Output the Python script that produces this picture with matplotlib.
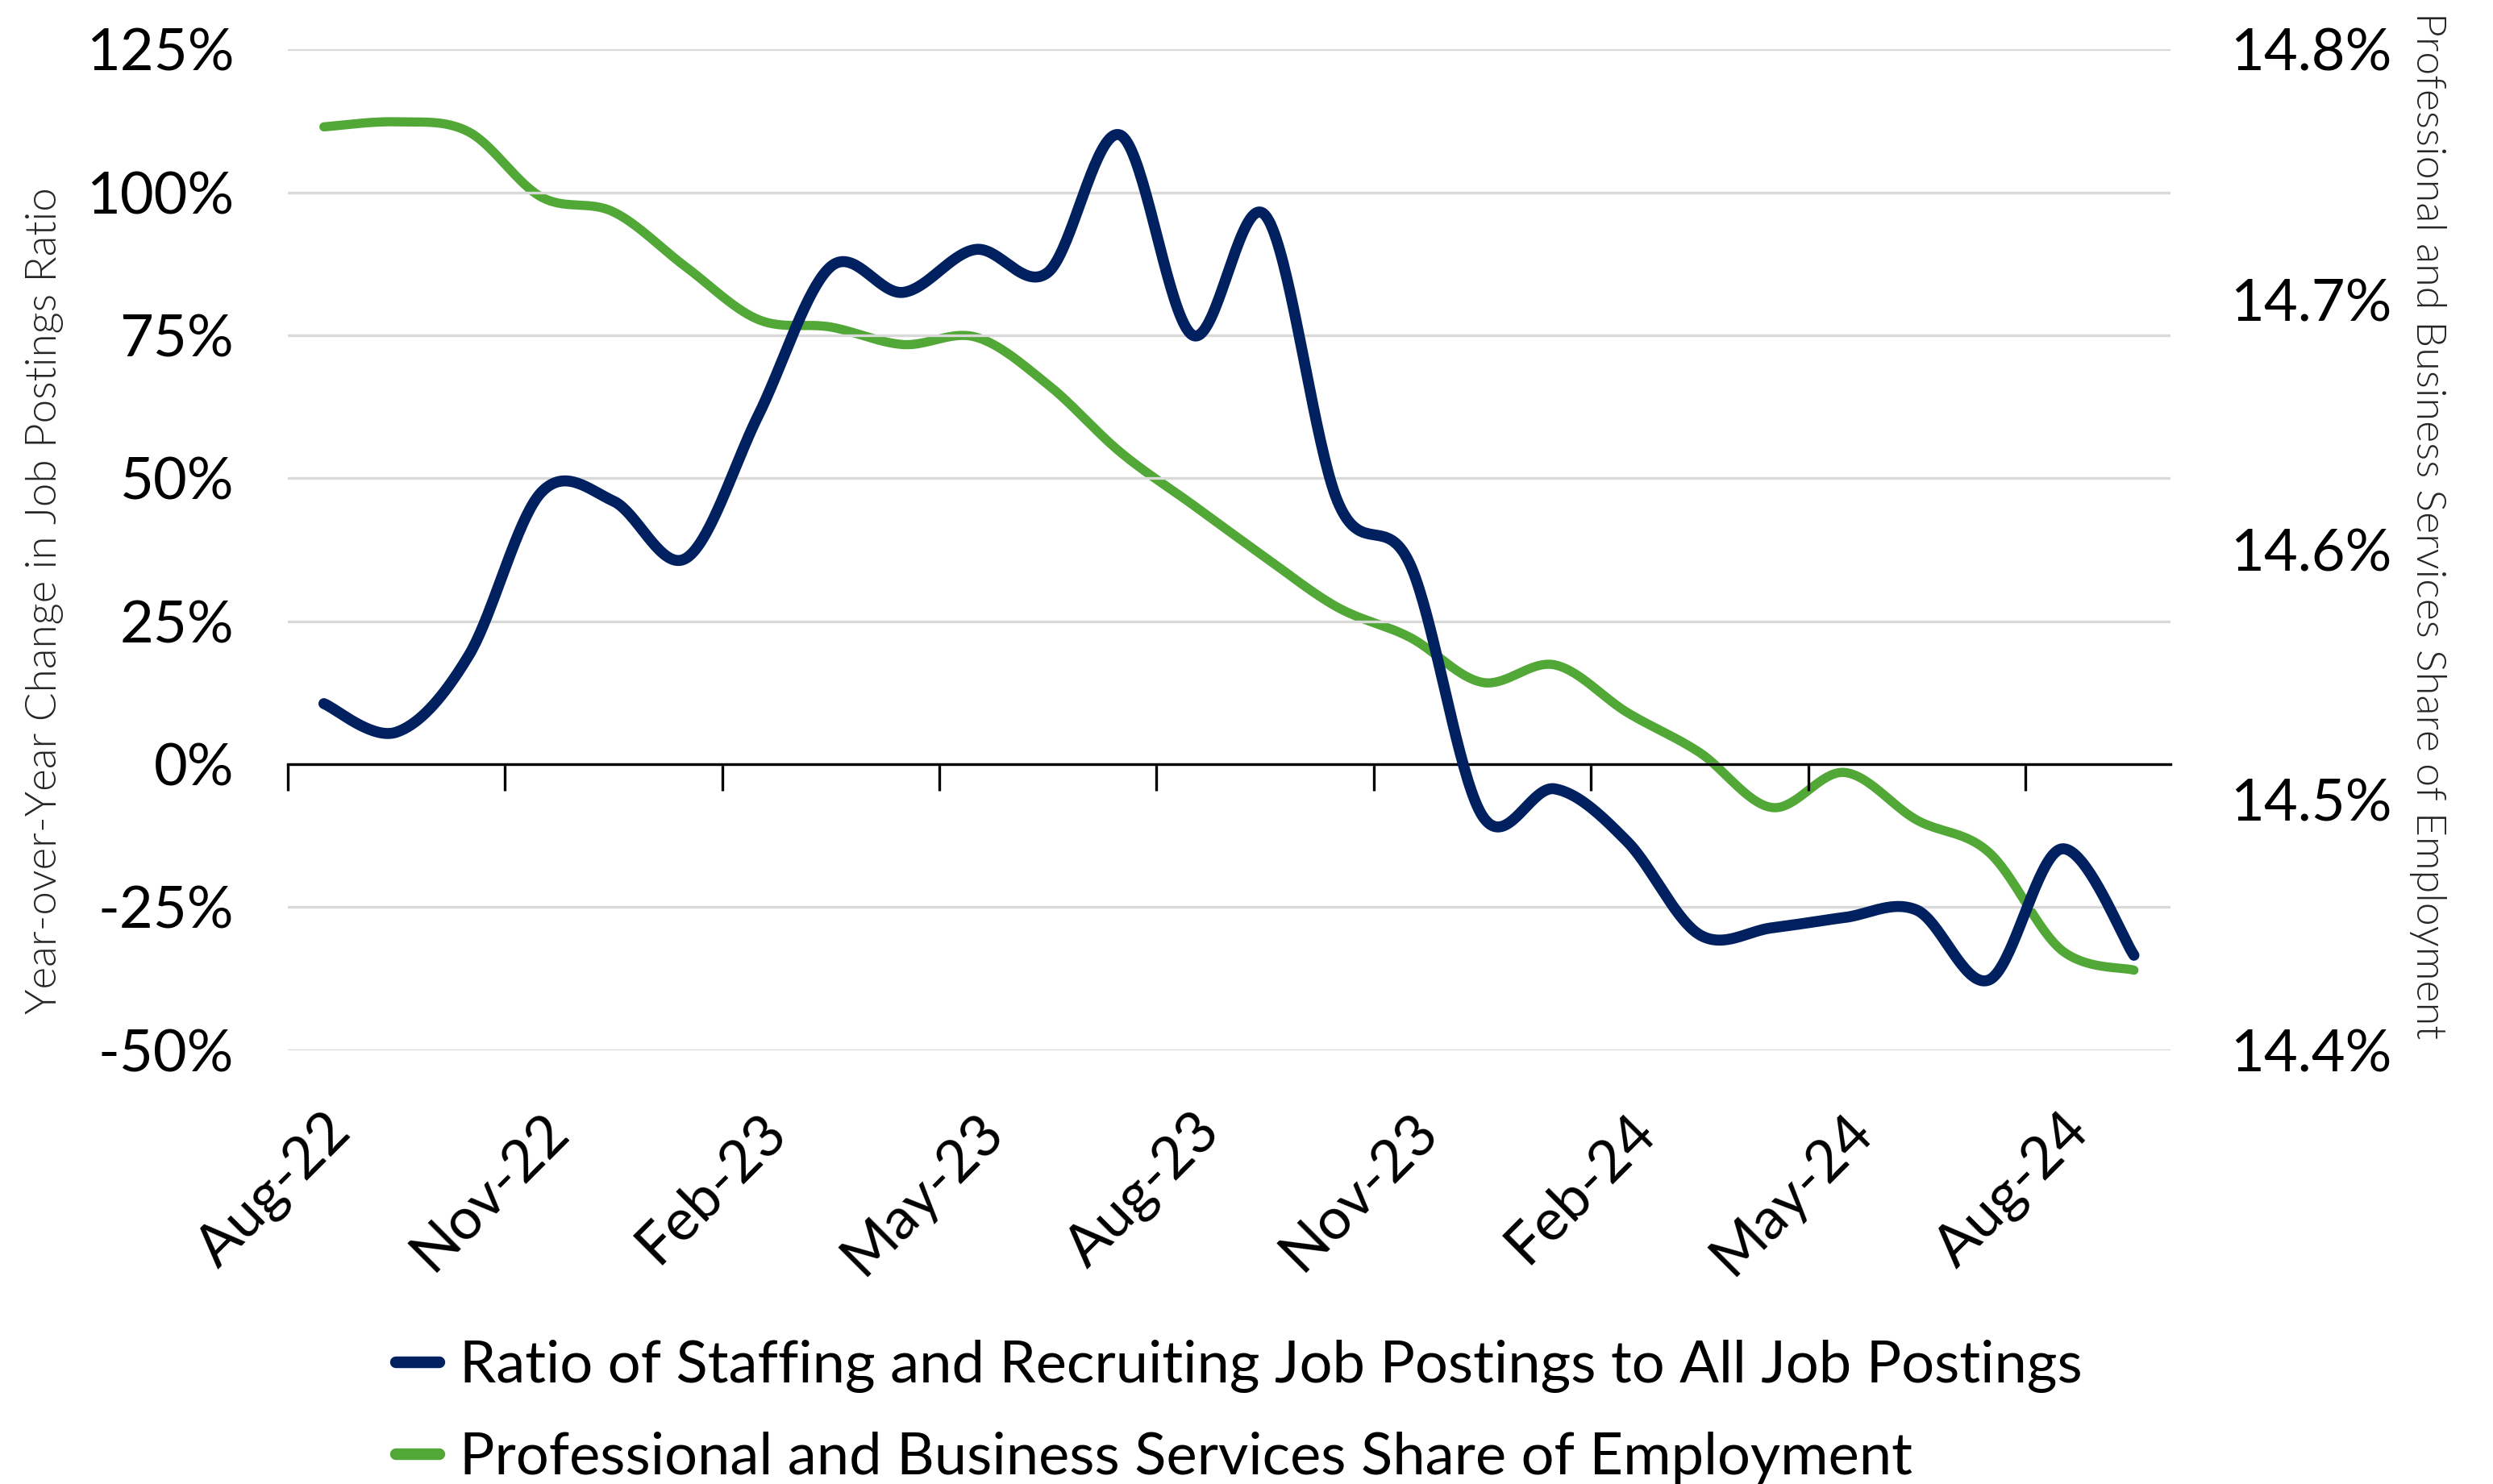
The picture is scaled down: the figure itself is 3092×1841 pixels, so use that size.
import numpy as np
import matplotlib.pyplot as plt
from matplotlib.ticker import FuncFormatter, MultipleLocator

months = ['Aug-22', 'Sep-22', 'Oct-22', 'Nov-22', 'Dec-22', 'Jan-23', 'Feb-23', 'Mar-23',
          'Apr-23', 'May-23', 'Jun-23', 'Jul-23', 'Aug-23', 'Sep-23', 'Oct-23', 'Nov-23',
          'Dec-23', 'Jan-24', 'Feb-24', 'Mar-24', 'Apr-24', 'May-24', 'Jun-24', 'Jul-24',
          'Aug-24', 'Sep-24']

# YoY change in staffing/recruiting share of job postings (%)
staffing_ratio = [10.6, 5.6, 19.0, 47.5, 46.0, 36.0, 61.0, 87.0, 82.5, 90.0, 86.0, 110.0,
                  75.0, 96.0, 46.0, 35.0, -9.0, -4.3, -13.5, -29.8, -28.6, -26.8, -25.5,
                  -37.7, -14.8, -33.4]

# professional & business services share of employment (%)
pbs_share = [14.769, 14.771, 14.767, 14.741, 14.735, 14.713, 14.692, 14.689, 14.682, 14.685,
             14.666, 14.639, 14.618, 14.597, 14.577, 14.565, 14.547, 14.554, 14.535, 14.519,
             14.497, 14.511, 14.492, 14.479, 14.440, 14.432]

BLUE = '#00205F'
GREEN = '#52A836'
FONT = 'Lato'
FS = 26


def smooth(y, n=40):
    # excel style smoothed line (cardinal spline through the points)
    y = np.asarray(y, dtype=float)
    x = np.arange(len(y), dtype=float)
    xs, ys = [], []
    t = np.linspace(0, 1, n)
    for i in range(len(y) - 1):
        y0 = y[i - 1] if i > 0 else y[i]
        y3 = y[i + 2] if i + 2 < len(y) else y[i + 1]
        x0 = x[i - 1] if i > 0 else x[i]
        x3 = x[i + 2] if i + 2 < len(x) else x[i + 1]
        p1, p2 = np.array([x[i], y[i]]), np.array([x[i + 1], y[i + 1]])
        c1 = p1 + (p2 - np.array([x0, y0])) / 6
        c2 = p2 - (np.array([x3, y3]) - p1) / 6
        pts = ((1 - t)[:, None] ** 3 * p1 + 3 * ((1 - t) ** 2 * t)[:, None] * c1
               + 3 * ((1 - t) * t ** 2)[:, None] * c2 + (t ** 3)[:, None] * p2)
        xs.append(pts[:, 0])
        ys.append(pts[:, 1])
    return np.concatenate(xs), np.concatenate(ys)


fig = plt.figure(figsize=(15.46, 9.205), dpi=200)
ax = fig.add_axes([0.1154, 0.2923, 0.8705 - 0.1154, 0.9668 - 0.2923])
ax2 = ax.twinx()

xb, yb = smooth(staffing_ratio)
xg, yg = smooth(pbs_share)
ax.plot(xb, yb, color=BLUE, lw=4.9, solid_capstyle='round', zorder=3)
ax2.plot(xg, yg, color=GREEN, lw=4.1, solid_capstyle='round', zorder=2)
ax.set_zorder(ax2.get_zorder() + 1)
ax.patch.set_visible(False)

ax.set_xlim(-0.5, len(months) - 0.5)
ax.set_ylim(-50, 125)
ax2.set_ylim(14.4, 14.8)

ax.yaxis.set_major_locator(MultipleLocator(25))
ax.yaxis.set_major_formatter(FuncFormatter(lambda v, p: f'{v:.0f}%'))
ax2.yaxis.set_major_locator(MultipleLocator(0.1))
ax2.yaxis.set_major_formatter(FuncFormatter(lambda v, p: f'{v:.1f}%'))
ax.grid(axis='y', color='#D9D9D9', lw=1.2)
ax.set_axisbelow(True)

for a in (ax, ax2):
    for s in ('top', 'left', 'right'):
        a.spines[s].set_visible(False)
ax2.spines['bottom'].set_visible(False)

# category axis sits at 0%
ax.spines['bottom'].set_position(('data', 0))
ax.spines['bottom'].set_color('black')
ax.spines['bottom'].set_linewidth(1.2)
ax.set_xticks(np.arange(-0.5, len(months) - 1, 3))
ax.tick_params(axis='x', length=12, width=1.2, direction='out', labelbottom=False)
ax.tick_params(axis='y', length=0, labelsize=FS, pad=24)
ax2.tick_params(axis='y', length=0, labelsize=FS, pad=27)
for lab in ax.get_yticklabels() + ax2.get_yticklabels():
    lab.set_fontfamily(FONT)

sec = ax.secondary_xaxis('bottom')
sec.set_xticks(range(0, len(months), 3))
sec.set_xticklabels(months[::3], rotation=45, ha='right', rotation_mode='anchor',
                    fontsize=FS, fontfamily=FONT)
sec.tick_params(length=0, pad=24)
sec.spines['bottom'].set_visible(False)

ax.set_ylabel('Year-over-Year Change in Job Postings Ratio', fontsize=19.1, color='#262626',
              fontfamily=FONT, fontweight=300)
ax.yaxis.set_label_coords(-0.119, 0.449)
ax2.set_ylabel('Professional and Business Services Share of Employment', fontsize=18.7,
               color='#262626', fontfamily=FONT, fontweight=300, rotation=-90,
               va='center')
ax2.yaxis.set_label_coords(1.137, 0.524)

h1, = ax.plot([], [], color=BLUE, lw=5.2, solid_capstyle='round')
h2, = ax.plot([], [], color=GREEN, lw=5.2, solid_capstyle='round')
fig.legend([h1, h2],
           ['Ratio of Staffing and Recruiting Job Postings to All Job Postings',
            'Professional and Business Services Share of Employment'],
           loc='upper left', bbox_to_anchor=(0.147, 0.1167), frameon=False,
           prop={'family': FONT, 'size': FS}, handlelength=0.75, handletextpad=0.35,
           labelspacing=0.66, borderpad=0)

fig.savefig('out.png', dpi=200)
